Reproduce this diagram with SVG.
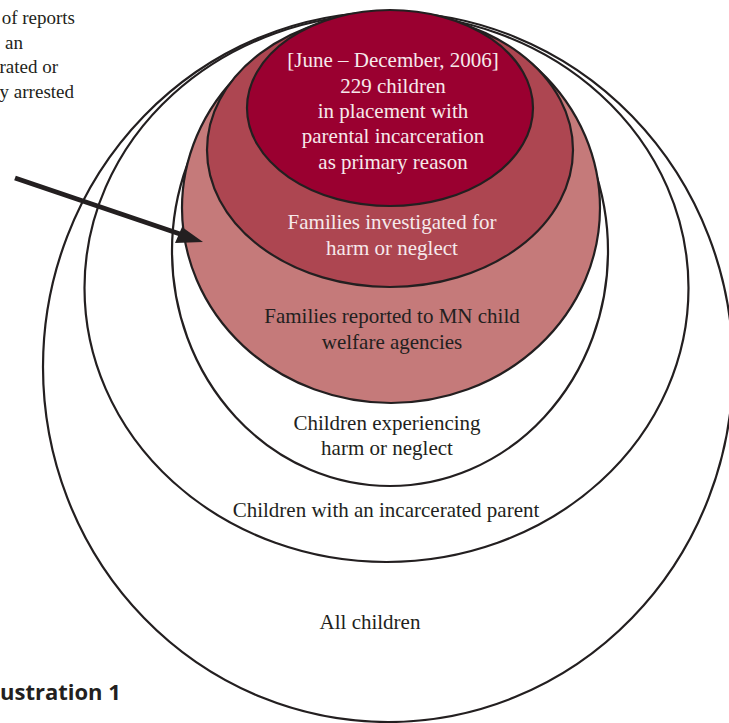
<svg xmlns="http://www.w3.org/2000/svg" width="729" height="723" viewBox="0 0 729 723">
<style>
.ring{stroke:#231f20;stroke-width:2.2}
.t{font-family:"Liberation Serif","Times New Roman",serif;font-size:21px;fill:#231f20;text-anchor:middle}
.w{fill:#f6e9eb}
.side{font-family:"Liberation Serif","Times New Roman",serif;font-size:19px;fill:#231f20;text-anchor:end}
</style>
<rect width="729" height="723" fill="#ffffff"/>
<g id="all-children"><ellipse class="ring" cx="388" cy="367" rx="345" ry="355" fill="#ffffff"/><text class="t" x="370" y="629">All children</text></g>
<g id="incarcerated-parent"><ellipse class="ring" cx="386.5" cy="288" rx="302" ry="274" fill="#ffffff"/><text class="t" x="386" y="517">Children with an incarcerated parent</text></g>
<g id="harm-neglect"><ellipse class="ring" cx="390" cy="251" rx="218" ry="235" fill="#ffffff"/><text class="t" x="387" y="430">Children experiencing</text><text class="t" x="387" y="455">harm or neglect</text></g>
<g id="reported"><ellipse class="ring" cx="391" cy="208" rx="209" ry="195" fill="#c57a7a"/><text class="t" x="392" y="323">Families reported to MN child</text><text class="t" x="392" y="349">welfare agencies</text></g>
<g id="investigated"><ellipse class="ring" cx="390" cy="150" rx="183" ry="137" fill="#ad4651"/><text class="t w" x="392" y="229">Families investigated for</text><text class="t w" x="392" y="255">harm or neglect</text></g>
<g id="placement"><ellipse class="ring" cx="390" cy="108" rx="143" ry="98" fill="#9a0030"/>
<text class="t w" x="393" y="67">[June – December, 2006]</text>
<text class="t w" x="393" y="93">229 children</text>
<text class="t w" x="393" y="118">in placement with</text>
<text class="t w" x="393" y="143">parental incarceration</text>
<text class="t w" x="393" y="169">as primary reason</text></g>
<g id="side-note"><text class="side" x="75" y="24">of reports</text><text class="side" x="23" y="49">an</text><text class="side" x="58" y="73">rated or</text><text class="side" x="74" y="98">y arrested</text></g>
<g id="caption"><text x="0" y="700" font-family="'Open Sans','Liberation Sans',sans-serif" font-weight="bold" font-size="22" fill="#231f20">ustration 1</text></g>
<g id="connectors"><line x1="15" y1="178" x2="180" y2="234" stroke="#231f20" stroke-width="5"/><polygon points="203,242 182,227 175,243" fill="#231f20"/></g>
</svg>
